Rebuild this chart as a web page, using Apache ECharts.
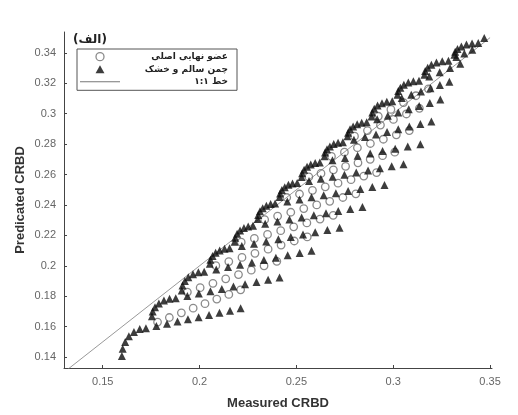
<!DOCTYPE html>
<html>
<head>
<meta charset="utf-8">
<script src="https://cdn.jsdelivr.net/npm/echarts@6/dist/echarts.min.js"></script>
<style>
  html, body { margin: 0; padding: 0; background: #fff; }
  #chart { width: 518px; height: 415px; }
</style>
</head>
<body>
<div id="chart"></div>
<script>
// Series names (legend order)
const seriesNames = ['عضو نهایی اصلی', 'چمن سالم و خشک', 'خط ۱:۱'];
const panelTitle = '(الف)';

// Axis tick values
const xTicks = [0.15, 0.2, 0.25, 0.3, 0.35];
const yTicks = [0.14, 0.16, 0.18, 0.2, 0.22, 0.24, 0.26, 0.28, 0.3, 0.32, 0.34];

// 1:1 reference line end points
const oneToOne = [0.13, 0.35];

// Healthy & dry grass model: measured CRBD per mixing row
const triMeasured = [
  [0.1599, 0.1603, 0.1616, 0.1635, 0.1661, 0.1691, 0.1723, 0.1777, 0.1832, 0.1886, 0.1940, 0.1995, 0.2049, 0.2103, 0.2157, 0.2212],
  [0.1754, 0.1758, 0.1770, 0.1790, 0.1816, 0.1845, 0.1877, 0.1937, 0.1996, 0.2056, 0.2115, 0.2175, 0.2235, 0.2294, 0.2354, 0.2413],
  [0.1908, 0.1912, 0.1924, 0.1942, 0.1966, 0.1994, 0.2024, 0.2086, 0.2147, 0.2209, 0.2270, 0.2332, 0.2394, 0.2455, 0.2517, 0.2578],
  [0.2053, 0.2056, 0.2067, 0.2083, 0.2104, 0.2129, 0.2155, 0.2218, 0.2281, 0.2344, 0.2407, 0.2471, 0.2534, 0.2597, 0.2660, 0.2723],
  [0.2181, 0.2184, 0.2194, 0.2209, 0.2229, 0.2251, 0.2276, 0.2339, 0.2402, 0.2464, 0.2527, 0.2590, 0.2653, 0.2716, 0.2778, 0.2841],
  [0.2300, 0.2303, 0.2312, 0.2326, 0.2345, 0.2367, 0.2390, 0.2453, 0.2516, 0.2578, 0.2641, 0.2704, 0.2767, 0.2830, 0.2892, 0.2955],
  [0.2413, 0.2416, 0.2425, 0.2440, 0.2459, 0.2480, 0.2504, 0.2565, 0.2626, 0.2687, 0.2748, 0.2809, 0.2870, 0.2931, 0.2992, 0.3053],
  [0.2527, 0.2530, 0.2540, 0.2555, 0.2574, 0.2597, 0.2621, 0.2686, 0.2751, 0.2816, 0.2881, 0.2945, 0.3010, 0.3075, 0.3140],
  [0.2645, 0.2648, 0.2658, 0.2673, 0.2693, 0.2715, 0.2740, 0.2797, 0.2854, 0.2911, 0.2968, 0.3026, 0.3083, 0.3140, 0.3197],
  [0.2764, 0.2767, 0.2777, 0.2793, 0.2814, 0.2837, 0.2863, 0.2917, 0.2972, 0.3026, 0.3080, 0.3134, 0.3189, 0.3243],
  [0.2888, 0.2892, 0.2902, 0.2919, 0.2942, 0.2967, 0.2995, 0.3044, 0.3093, 0.3143, 0.3192, 0.3241, 0.3290],
  [0.3022, 0.3026, 0.3037, 0.3055, 0.3078, 0.3104, 0.3133, 0.3186, 0.3240, 0.3293, 0.3346],
  [0.3161, 0.3165, 0.3178, 0.3197, 0.3223, 0.3253, 0.3285, 0.3326, 0.3367, 0.3408],
  [0.3316, 0.3320, 0.3332, 0.3352, 0.3378, 0.3407, 0.3439, 0.3470]
];

// Healthy & dry grass model: predicted CRBD per mixing row
const triPredicted = [
  [0.1407, 0.1454, 0.1499, 0.1536, 0.1565, 0.1584, 0.1590, 0.1604, 0.1619, 0.1633, 0.1648, 0.1662, 0.1676, 0.1691, 0.1705, 0.1720],
  [0.1668, 0.1699, 0.1728, 0.1752, 0.1771, 0.1783, 0.1787, 0.1802, 0.1817, 0.1832, 0.1847, 0.1863, 0.1878, 0.1893, 0.1908, 0.1923],
  [0.1838, 0.1870, 0.1900, 0.1925, 0.1945, 0.1957, 0.1961, 0.1976, 0.1992, 0.2007, 0.2022, 0.2038, 0.2053, 0.2069, 0.2084, 0.2099],
  [0.2014, 0.2040, 0.2065, 0.2085, 0.2101, 0.2112, 0.2115, 0.2130, 0.2145, 0.2160, 0.2175, 0.2190, 0.2205, 0.2220, 0.2235, 0.2250],
  [0.2158, 0.2185, 0.2211, 0.2232, 0.2249, 0.2259, 0.2263, 0.2277, 0.2291, 0.2304, 0.2318, 0.2332, 0.2346, 0.2360, 0.2373, 0.2387],
  [0.2308, 0.2334, 0.2359, 0.2379, 0.2395, 0.2406, 0.2409, 0.2423, 0.2436, 0.2450, 0.2463, 0.2477, 0.2491, 0.2504, 0.2518, 0.2531],
  [0.2452, 0.2476, 0.2498, 0.2517, 0.2532, 0.2541, 0.2544, 0.2558, 0.2572, 0.2585, 0.2599, 0.2613, 0.2627, 0.2641, 0.2654, 0.2668],
  [0.2583, 0.2608, 0.2631, 0.2651, 0.2666, 0.2676, 0.2679, 0.2694, 0.2709, 0.2724, 0.2739, 0.2754, 0.2769, 0.2784, 0.2799],
  [0.2720, 0.2744, 0.2766, 0.2785, 0.2800, 0.2809, 0.2812, 0.2829, 0.2846, 0.2863, 0.2880, 0.2898, 0.2915, 0.2932, 0.2949],
  [0.2851, 0.2875, 0.2897, 0.2916, 0.2931, 0.2940, 0.2943, 0.2964, 0.2986, 0.3007, 0.3029, 0.3050, 0.3071, 0.3093],
  [0.2982, 0.3008, 0.3032, 0.3053, 0.3069, 0.3079, 0.3082, 0.3103, 0.3125, 0.3146, 0.3167, 0.3189, 0.3210],
  [0.3125, 0.3149, 0.3171, 0.3190, 0.3205, 0.3214, 0.3217, 0.3245, 0.3273, 0.3300, 0.3328],
  [0.3256, 0.3280, 0.3302, 0.3321, 0.3336, 0.3345, 0.3348, 0.3372, 0.3396, 0.3420],
  [0.3387, 0.3407, 0.3426, 0.3442, 0.3455, 0.3462, 0.3465, 0.3498]
];

// Main endmember model: measured CRBD per mixing row
const circMeasured = [
  [0.1783, 0.1844, 0.1906, 0.1967, 0.2028, 0.2089, 0.2151, 0.2212],
  [0.1937, 0.2003, 0.2069, 0.2135, 0.2201, 0.2267, 0.2333, 0.2399],
  [0.2084, 0.2151, 0.2219, 0.2286, 0.2354, 0.2421, 0.2489, 0.2556],
  [0.2215, 0.2283, 0.2351, 0.2419, 0.2486, 0.2554, 0.2622, 0.2690],
  [0.2336, 0.2403, 0.2471, 0.2538, 0.2605, 0.2672, 0.2740, 0.2807],
  [0.2450, 0.2516, 0.2583, 0.2649, 0.2715, 0.2782, 0.2848, 0.2914],
  [0.2564, 0.2627, 0.2691, 0.2754, 0.2818, 0.2881, 0.2945, 0.3008],
  [0.2681, 0.2748, 0.2815, 0.2882, 0.2949, 0.3016, 0.3083],
  [0.2800, 0.2867, 0.2934, 0.3001, 0.3068, 0.3135],
  [0.2923, 0.2988, 0.3053, 0.3117, 0.3182]
];

// Main endmember model: predicted CRBD per mixing row
const circPredicted = [
  [0.1630, 0.1660, 0.1691, 0.1721, 0.1751, 0.1781, 0.1812, 0.1842],
  [0.1827, 0.1856, 0.1885, 0.1914, 0.1942, 0.1971, 0.2000, 0.2029],
  [0.2001, 0.2028, 0.2055, 0.2082, 0.2109, 0.2136, 0.2163, 0.2190],
  [0.2155, 0.2180, 0.2206, 0.2231, 0.2256, 0.2282, 0.2307, 0.2332],
  [0.2303, 0.2327, 0.2352, 0.2376, 0.2400, 0.2424, 0.2449, 0.2473],
  [0.2449, 0.2472, 0.2496, 0.2519, 0.2543, 0.2566, 0.2590, 0.2613],
  [0.2584, 0.2607, 0.2631, 0.2654, 0.2677, 0.2700, 0.2724, 0.2747],
  [0.2719, 0.2747, 0.2776, 0.2804, 0.2832, 0.2861, 0.2889],
  [0.2852, 0.2889, 0.2925, 0.2962, 0.2998, 0.3035],
  [0.2983, 0.3028, 0.3073, 0.3118, 0.3163]
];

// Zip the row arrays into [measured, predicted] pairs
function toPairs(xRows, yRows) {
  const out = [];
  xRows.forEach((row, r) => row.forEach((x, i) => out.push([x, yRows[r][i]])));
  return out;
}

const tickFmt = v => String(parseFloat(Number(v).toFixed(2)));
const sansFont = '"Liberation Sans", Arial, Helvetica, sans-serif';
const arabicFont = '"DejaVu Sans", "Noto Sans", sans-serif';

// Legend glyphs: an upright triangle and a thin horizontal rule
const triangleIcon = 'path://M5,0 L10,9 L0,9 Z';
const ruleIcon = 'path://M0,0 L40,0 L40,1 L0,1 Z';

const chart = echarts.init(document.getElementById('chart'), null, { renderer: 'canvas' });

chart.setOption({
  animation: false,
  backgroundColor: '#ffffff',
  title: {
    text: panelTitle,
    left: 73,
    top: 34,
    padding: 0,
    textStyle: { fontSize: 12, fontWeight: 'bold', color: '#222', fontFamily: arabicFont }
  },
  legend: {
    data: [
      { name: seriesNames[0], icon: 'circle', itemStyle: { color: 'rgba(255,255,255,0)', borderColor: '#6e6e6e', borderWidth: 1.3 } },
      { name: seriesNames[1], icon: triangleIcon, itemStyle: { color: '#0d0d0d' } },
      { name: seriesNames[2], icon: ruleIcon, itemStyle: { color: '#777', borderWidth: 0 } }
    ],
    orient: 'vertical',
    left: 77,
    top: 49,
    padding: [3, 9, 4, 3],
    itemGap: 3.5,
    itemWidth: 40,
    itemHeight: 8,
    symbolKeepAspect: true,
    borderColor: '#555',
    borderWidth: 1,
    backgroundColor: '#fff',
    selectedMode: false,
    formatter: name => '{t|' + name + '}',
    textStyle: {
      rich: {
        t: { width: 103, align: 'right', fontSize: 9, fontWeight: 'bold', color: '#222', fontFamily: arabicFont, lineHeight: 12 }
      }
    }
  },
  grid: { left: 64, right: 26, top: 32, bottom: 45, containLabel: false },
  xAxis: {
    type: 'value',
    min: 0.13,
    max: 0.351,
    name: 'Measured CRBD',
    nameLocation: 'middle',
    nameGap: 29,
    nameMoveOverlap: false,
    nameTextStyle: { fontSize: 13, fontWeight: 'bold', color: '#333', fontFamily: sansFont },
    axisLine: { show: true, onZero: false, lineStyle: { color: '#444', width: 1 } },
    axisTick: { show: true, inside: true, length: 3, customValues: xTicks, lineStyle: { color: '#444' } },
    axisLabel: { customValues: xTicks, formatter: tickFmt, margin: 8, fontSize: 11, color: '#666', fontFamily: sansFont },
    splitLine: { show: false }
  },
  yAxis: {
    type: 'value',
    min: 0.1328,
    max: 0.3537,
    name: 'Predicated CRBD',
    nameLocation: 'middle',
    nameGap: 37,
    nameMoveOverlap: false,
    nameRotate: 90,
    nameTextStyle: { fontSize: 13, fontWeight: 'bold', color: '#333', fontFamily: sansFont },
    axisLine: { show: true, onZero: false, lineStyle: { color: '#444', width: 1 } },
    axisTick: { show: true, inside: true, length: 3, customValues: yTicks, lineStyle: { color: '#444' } },
    axisLabel: { customValues: yTicks, formatter: tickFmt, margin: 8, fontSize: 11, color: '#666', fontFamily: sansFont },
    splitLine: { show: false }
  },
  series: [
    {
      name: seriesNames[0],
      type: 'scatter',
      symbol: 'circle',
      symbolSize: 7.5,
      z: 2,
      itemStyle: { color: 'rgba(255,255,255,0)', borderColor: '#6e6e6e', borderWidth: 1.3 },
      data: toPairs(circMeasured, circPredicted)
    },
    {
      name: seriesNames[1],
      type: 'scatter',
      symbol: 'triangle',
      symbolSize: 8,
      z: 3,
      itemStyle: { color: '#0d0d0d' },
      data: toPairs(triMeasured, triPredicted)
    },
    {
      name: seriesNames[2],
      type: 'line',
      symbol: 'none',
      showSymbol: false,
      z: 1,
      clip: true,
      itemStyle: { color: '#777' },
      lineStyle: { color: '#999', width: 1 },
      data: [[oneToOne[0], oneToOne[0]], [oneToOne[1], oneToOne[1]]]
    }
  ]
});
</script>
</body>
</html>
